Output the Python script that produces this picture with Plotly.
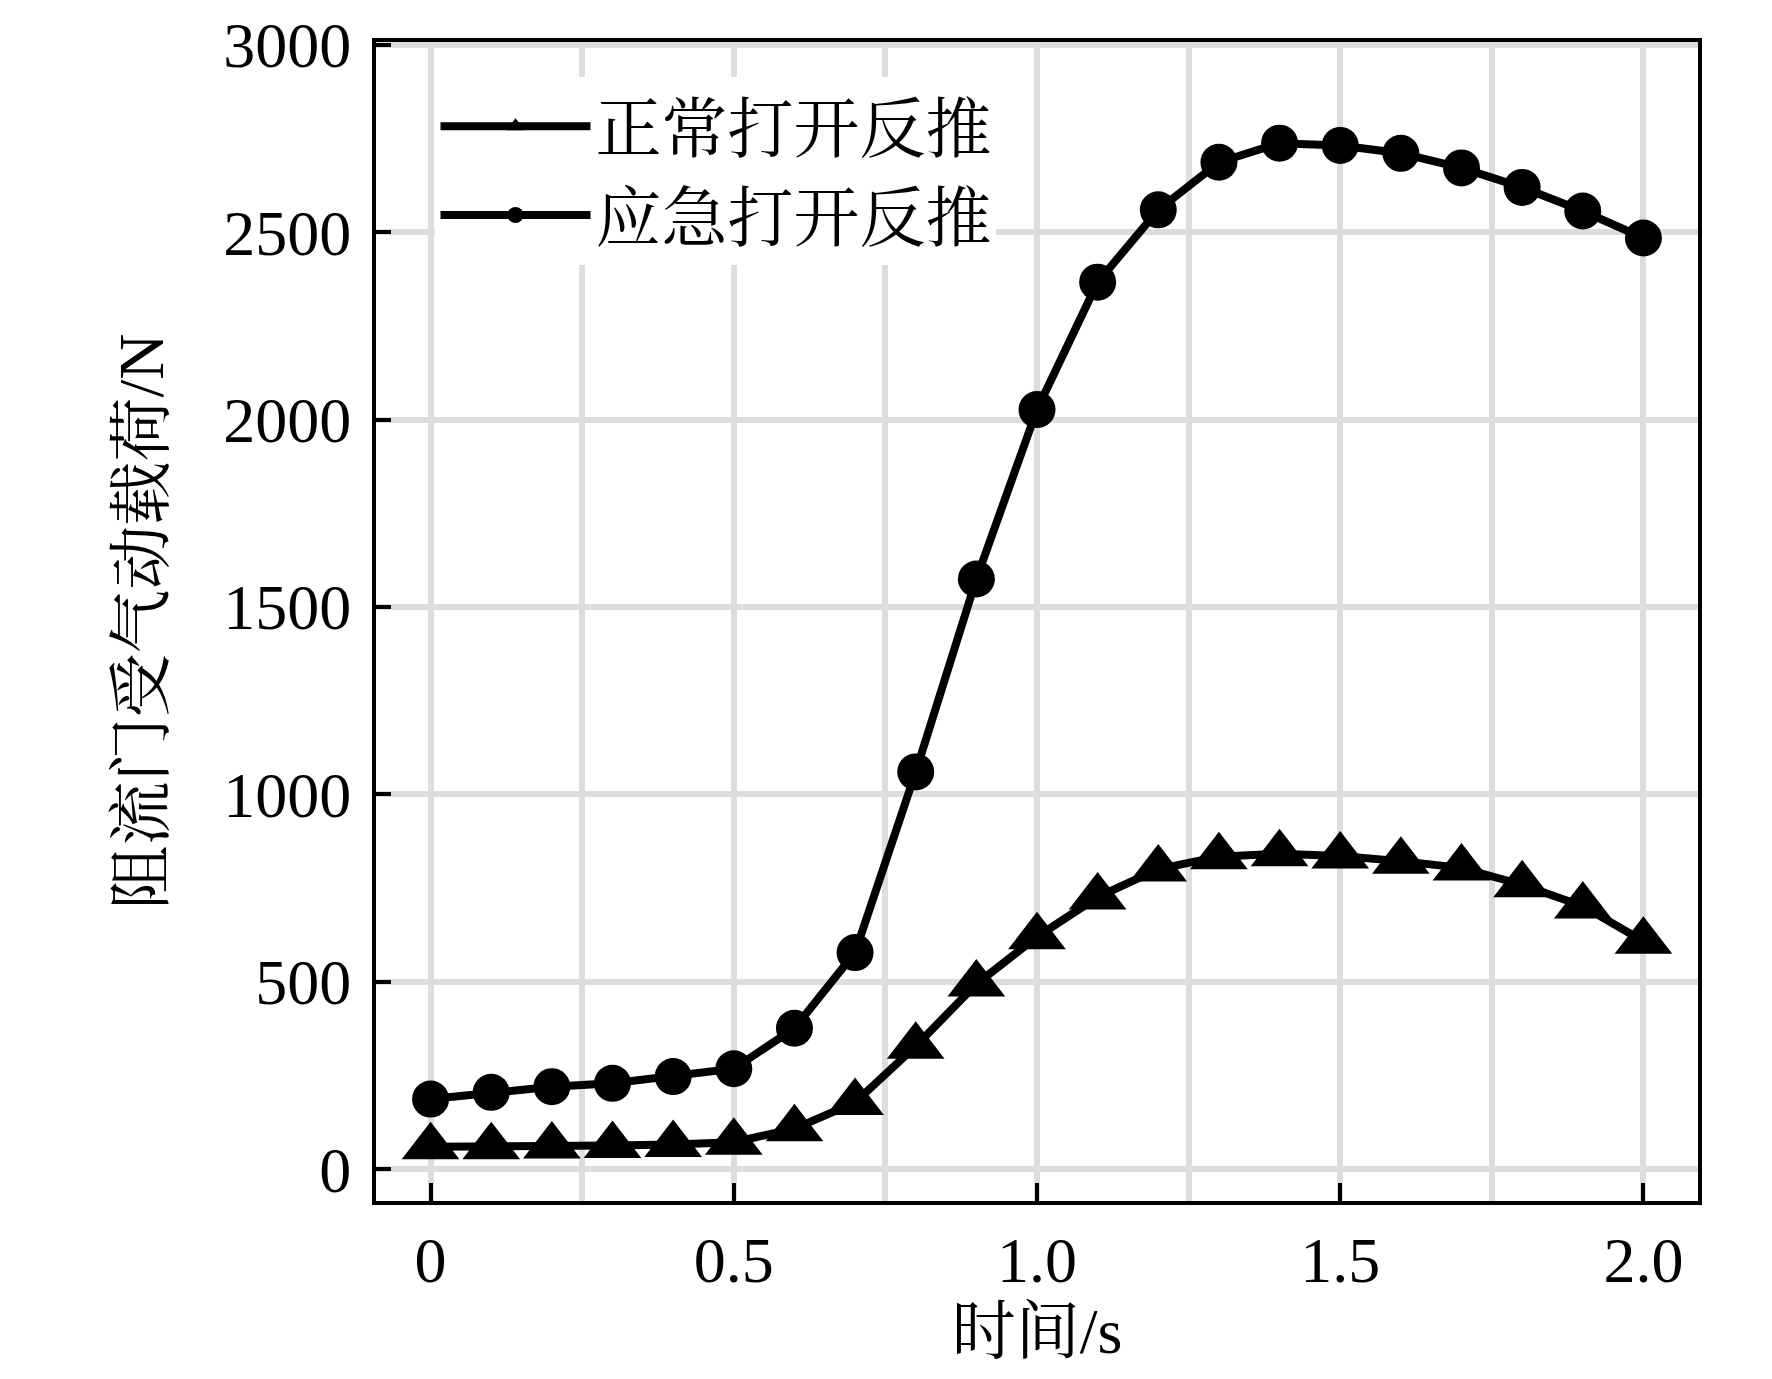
import plotly.graph_objects as go

# time axis (s)
time_s = [0.0, 0.1, 0.2, 0.3, 0.4, 0.5, 0.6, 0.7, 0.8, 0.9, 1.0,
          1.1, 1.2, 1.3, 1.4, 1.5, 1.6, 1.7, 1.8, 1.9, 2.0]

# spoiler door aerodynamic load (N)
normal_open = [60, 60, 62, 63, 66, 72, 108, 178, 328, 494, 620,
               726, 801, 834, 842, 836, 822, 804, 759, 702, 608]
emergency_open = [187, 205, 220, 229, 247, 268, 376, 578, 1060, 1575, 2027,
                  2367, 2560, 2687, 2738, 2732, 2711, 2672, 2620, 2557, 2485]

series_names = ['正常打开反推', '应急打开反推']
x_tickvals = [0, 0.5, 1.0, 1.5, 2.0]
x_ticktext = ['0', '0.5', '1.0', '1.5', '2.0']
y_tickvals = [0, 500, 1000, 1500, 2000, 2500, 3000]

FONT = 'Liberation Serif, Noto Serif CJK SC, Noto Sans CJK SC, serif'
GRID = '#dddddd'

fig = go.Figure()

fig.add_trace(go.Scatter(
    x=time_s, y=normal_open, name=series_names[0],
    mode='lines+markers',
    line=dict(color='black', width=8),
    marker=dict(symbol='triangle-up', size=50, color='black'),
))
fig.add_trace(go.Scatter(
    x=time_s, y=emergency_open, name=series_names[1],
    mode='lines+markers',
    line=dict(color='black', width=8),
    marker=dict(symbol='circle', size=37, color='black'),
))

fig.update_layout(
    width=1772, height=1379,
    margin=dict(l=368, r=82, t=34, b=186),
    paper_bgcolor='white',
    plot_bgcolor='white',
    font=dict(family=FONT, size=64, color='black'),
    showlegend=True,
    legend=dict(
        x=0.045, y=0.97, xanchor='left', yanchor='top',
        bgcolor='white',
        font=dict(size=66),
        tracegroupgap=0,
        itemwidth=150,
        itemsizing='trace',
    ),
    xaxis=dict(
        range=[-0.09, 2.09],
        tickvals=x_tickvals, ticktext=x_ticktext,
        ticks='inside', ticklen=18, tickwidth=4, tickcolor='black',
        showline=True, linecolor='black', linewidth=4, mirror=True,
        showgrid=True, gridcolor=GRID, gridwidth=6,
        minor=dict(dtick=0.25, tick0=0, showgrid=True, gridcolor=GRID, gridwidth=6),
        zeroline=False,
        automargin=False,
        ticklabelstandoff=0,
        title=dict(text='时间/s', standoff=10, font=dict(size=64)),
    ),
    yaxis=dict(
        range=[-85, 3008],
        tickvals=y_tickvals,
        ticks='inside', ticklen=15, tickwidth=4, tickcolor='black',
        showline=True, linecolor='black', linewidth=4, mirror=True,
        showgrid=True, gridcolor=GRID, gridwidth=6,
        zeroline=False,
        automargin=False,
        ticklabeloverflow='allow',
        ticklabelstandoff=8,
        title=dict(text='阻流门受气动载荷/N', standoff=40, font=dict(size=64)),
    ),
)

fig.write_html("out.html")
